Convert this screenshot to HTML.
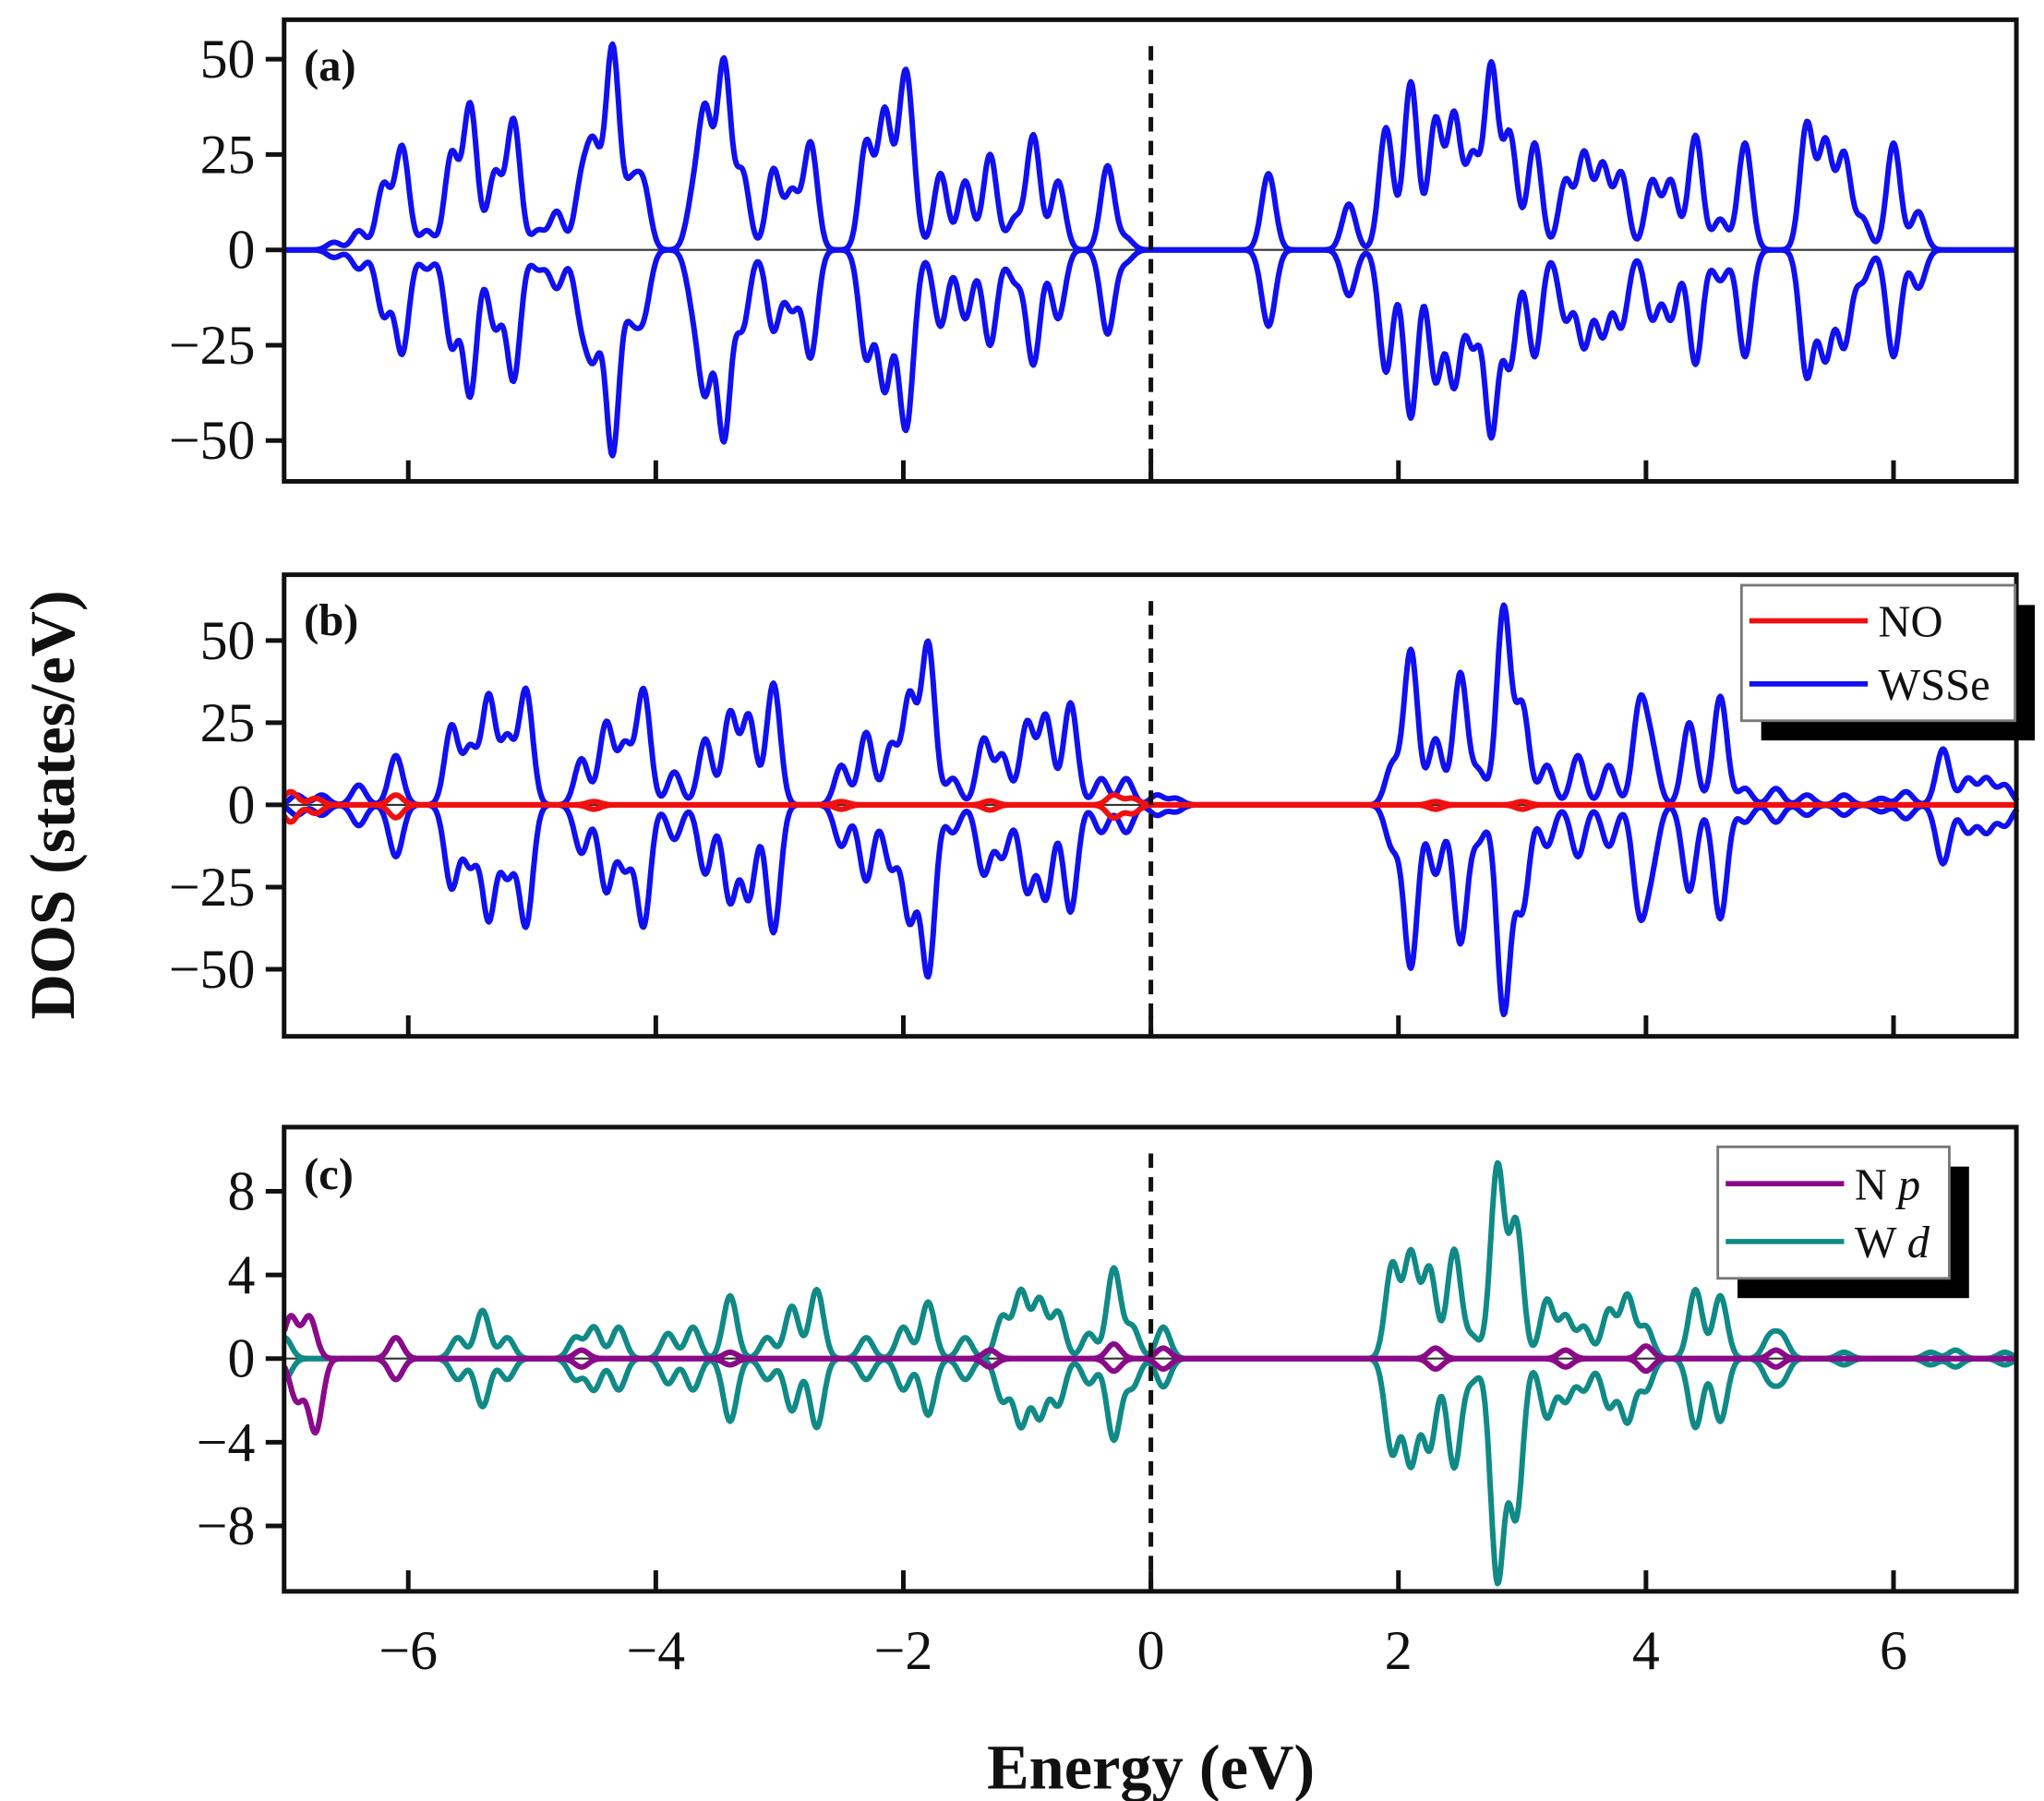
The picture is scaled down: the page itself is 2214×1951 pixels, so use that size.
<!DOCTYPE html>
<html><head><meta charset="utf-8"><style>
html,body{margin:0;padding:0;background:#fff;}
svg{display:block;}
text{font-family:"Liberation Serif",serif;fill:#111;}
</style></head><body>
<svg id="s" width="2214" height="1951" viewBox="0 0 1554 1369.4" xmlns="http://www.w3.org/2000/svg">
<rect width="1554" height="1369.4" fill="#fff"/>
<g id="g"></g>
<text x="231" y="61" font-size="34" font-weight="bold">(a)</text>
<text x="231" y="483" font-size="34" font-weight="bold">(b)</text>
<text x="231" y="904" font-size="34" font-weight="bold">(c)</text>
<text x="875" y="1360" font-size="48" font-weight="bold" text-anchor="middle">Energy (eV)</text>
<text transform="translate(56,612) rotate(-90)" font-size="48" font-weight="bold" text-anchor="middle">DOS (states/eV)</text>
</svg>
<script>
const X=e=>875+e*94.1;
const g=document.getElementById('g');
let h='';
function gauss(peaks,sig,e){let s=0;for(const p of peaks){s+=p[1]*Math.exp(-((e-p[0])**2)/(2*sig*sig));}return s;}
function path(peaks,y0,k,sign,col,w,sig){
 let d='';for(let e=-7;e<=7.0001;e+=0.01){const v=gauss(peaks,sig||0.055,e);d+=(d?'L':'M')+X(e).toFixed(1)+','+(y0-sign*v*k).toFixed(1);}
 h+=`<path d="${d}" fill="none" stroke="${col}" stroke-width="${w||4.2}" stroke-linejoin="round"/>`;
}
function panel(top,bot,y0){
 h+=`<line x1="216" y1="${y0}" x2="1533" y2="${y0}" stroke="#333" stroke-width="1.5"/>`;
}
function frame(top,bot,y0,ticks,k){
 h+=`<rect x="216" y="${top}" width="1317" height="${bot-top}" fill="none" stroke="#111" stroke-width="3.5"/>`;
 h+=`<line x1="875" y1="${top+20}" x2="875" y2="${bot}" stroke="#111" stroke-width="3.5" stroke-dasharray="11,7"/>`;
 for(const t of ticks){const y=y0-t*k;h+=`<line x1="202" y1="${y}" x2="216" y2="${y}" stroke="#111" stroke-width="3.5"/>`;
  h+=`<text x="194" y="${y+14}" font-size="42" text-anchor="end">${t<0?'\u2212'+(-t):t}</text>`;}
 for(let e=-6;e<=6;e+=2){h+=`<line x1="${X(e)}" y1="${bot}" x2="${X(e)}" y2="${bot-16}" stroke="#111" stroke-width="3.5"/>`;}
}
const A=[[-6.6,2],[-6.4,5],[-6.2,17],[-6.05,27],[-5.85,5],[-5.65,25],[-5.5,38],[-5.3,20],[-5.15,34],[-4.95,5],[-4.8,10],[-4.6,17],[-4.5,25],[-4.35,53],[-4.2,15],[-4.1,16],[-3.7,12],[-3.6,35],[-3.45,49],[-3.3,20],[-3.05,21],[-2.9,15],[-2.75,28],[-2.3,28],[-2.15,36],[-2.0,30],[-1.95,22],[-1.7,20],[-1.5,18],[-1.3,25],[-1.1,8],[-0.95,30],[-0.75,18],[-0.35,22],[-0.2,3],
[0.95,20],[1.6,12],[1.9,32],[2.1,44],[2.3,34],[2.45,35],[2.6,24],[2.75,48],[2.9,30],[3.1,28],[3.35,18],[3.5,25],[3.65,22],[3.8,20],[4.05,18],[4.2,18],[4.4,30],[4.6,8],[4.8,28],[5.3,33],[5.45,28],[5.6,25],[5.75,8],[6.0,28],[6.2,10]];
panel(15,366,190);
path(A,190,2.9,1,'#1010f0');path(A,190,2.9,-1,'#1010f0');
frame(15,366,190,[50,25,0,-25,-50],2.9);
const B=[[-6.9,3],[-6.7,3],[-6.4,6],[-6.1,15],[-5.65,24],[-5.5,17],[-5.35,33],[-5.2,20],[-5.05,35],[-4.6,14],[-4.4,25],[-4.25,18],[-4.1,35],[-3.85,10],[-3.6,20],[-3.4,28],[-3.25,27],[-3.05,37],[-2.5,12],[-2.3,22],[-2.1,18],[-1.95,33],[-1.8,49],[-1.6,8],[-1.35,20],[-1.2,15],[-1.0,25],[-0.85,27],[-0.65,31],[-0.4,8],[-0.2,8],[0.05,3],[0.2,2],
[1.95,12],[2.1,47],[2.3,20],[2.5,40],[2.65,10],[2.85,60],[3.0,30],[3.2,12],[3.45,15],[3.7,12],[3.95,30],[4.05,15],[4.35,25],[4.6,33],[4.8,5],[5.05,5],[5.3,3],[5.6,3],[5.9,2],[6.1,4],[6.4,17],[6.6,8],[6.75,8],[6.9,6]];
const NO=[[-6.95,4],[-6.75,2],[-6.1,3],[-4.5,1],[-2.5,1],[-1.3,1.2],[-0.3,3],[-0.15,2],[2.3,1],[3.0,1]];
panel(437,788,612);
path(B,612,2.5,1,'#1010f0');path(B.map(p=>[p[0],p[1]*1.05]),612,2.5,-1,'#1010f0');
path(NO,612,2.5,1,'#f01010');path(NO.map(p=>[p[0],p[1]*1.3]),612,2.5,-1,'#f01010');
frame(437,788,612,[50,25,0,-25,-50],2.5);
const C=[[-7,1],[-6.1,1],[-5.6,1],[-5.4,2.3],[-5.2,1],[-4.65,1],[-4.5,1.5],[-4.3,1.5],[-3.9,1.2],[-3.7,1.5],[-3.4,3],[-3.1,1],[-2.9,2.5],[-2.7,3.3],[-2.3,1],[-2.0,1.5],[-1.8,2.7],[-1.5,1],[-1.2,2],[-1.05,3.2],[-0.9,2.8],[-0.75,2.2],[-0.5,1.2],[-0.3,4.3],[-0.15,1.5],[0.1,1.5],
[1.95,4.5],[2.1,5],[2.25,4.3],[2.45,5.2],[2.6,1],[2.8,9.2],[2.95,6.5],[3.2,2.8],[3.35,2],[3.5,1.5],[3.7,2.3],[3.85,3],[4.0,1.5],[4.4,3.3],[4.6,3],[5.0,1],[5.1,1],[5.6,0.3],[6.3,0.3],[6.5,0.4],[6.9,0.3]];
const CN=C.map(p=>[p[0],p[0]>2.7&&p[0]<3?p[1]*1.15:(p[0]>-0.4&&p[0]<0.3?p[1]*0.9:p[1])]);
const NP=[[-6.95,2],[-6.8,2],[-6.1,1],[-4.6,0.4],[-3.4,0.3],[-1.3,0.4],[-0.3,0.7],[0.1,0.5],[2.3,0.5],[3.35,0.4],[4.0,0.6],[5.05,0.4]];
const NPn=[[-6.9,2],[-6.75,3.5],[-6.1,1],[-4.6,0.4],[-3.4,0.3],[-1.3,0.4],[-0.3,0.6],[0.1,0.5],[2.3,0.5],[3.35,0.4],[4.0,0.6],[5.05,0.4]];
panel(857,1210,1033);
path(C,1033,15.9,1,'#108a86');path(CN,1033,15.9,-1,'#108a86');
path(NP,1033,15.9,1,'#8a0a8a');path(NPn,1033,15.9,-1,'#8a0a8a');
frame(857,1210,1033,[8,4,0,-4,-8],15.9);
for(let e=-6;e<=6;e+=2){h+=`<text x="${X(e)}" y="1269" font-size="42" text-anchor="middle">${e<0?'\u2212'+(-e):e}</text>`;}
h+=`<rect x="1339" y="460" width="208" height="103" fill="#000"/><rect x="1324" y="445" width="208" height="103" fill="#fff" stroke="#777" stroke-width="2"/>`;
h+=`<line x1="1330" y1="472" x2="1420" y2="472" stroke="#f01010" stroke-width="4"/><text x="1428" y="484" font-size="34">NO</text>`;
h+=`<line x1="1330" y1="520" x2="1420" y2="520" stroke="#1010f0" stroke-width="4"/><text x="1428" y="532" font-size="34">WSSe</text>`;
h+=`<rect x="1321" y="887" width="176" height="100" fill="#000"/><rect x="1306" y="872" width="176" height="100" fill="#fff" stroke="#777" stroke-width="2"/>`;
h+=`<line x1="1312" y1="900" x2="1402" y2="900" stroke="#8a0a8a" stroke-width="4"/><text x="1410" y="912" font-size="34">N <tspan font-style="italic">p</tspan></text>`;
h+=`<line x1="1312" y1="944" x2="1402" y2="944" stroke="#108a86" stroke-width="4"/><text x="1410" y="956" font-size="34">W <tspan font-style="italic">d</tspan></text>`;
g.innerHTML=h;
</script>
</body></html>
